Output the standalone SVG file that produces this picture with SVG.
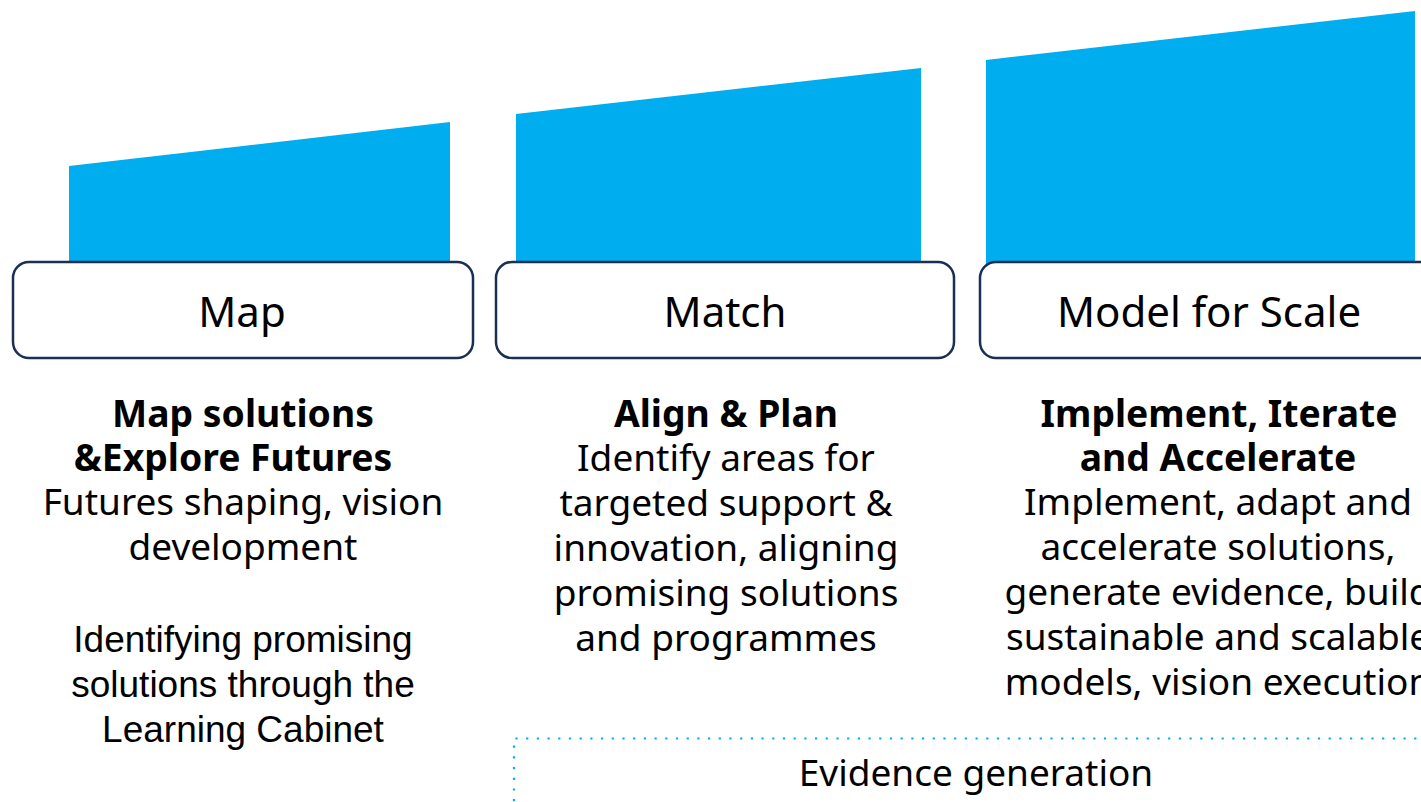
<svg xmlns="http://www.w3.org/2000/svg" width="1421" height="802" viewBox="0 0 1421 802">
<style>
.bar{fill:#00AEEF}
.box{fill:#ffffff;stroke:#1b2f55;stroke-width:2.5}
.lbl{font-family:"Noto Sans","Open Sans",sans-serif;font-size:42px;fill:#000;text-anchor:middle}
.ttl{font-family:"Noto Sans","Open Sans",sans-serif;font-size:37.3px;font-weight:bold;fill:#000;text-anchor:middle}
.txt{font-family:"Noto Sans","Open Sans",sans-serif;font-size:37px;fill:#000;text-anchor:middle}
.ar{font-family:"Liberation Sans",Arial,sans-serif;font-size:37px;fill:#000;text-anchor:middle}
.dot{fill:none;stroke:#00AEEF;stroke-width:2.2;stroke-dasharray:2.2 8.5}
</style>
<rect width="1421" height="802" fill="#ffffff"/>
<g id="map">
<polygon class="bar" points="69,166 450,122 450,266 69,266"/>
<rect class="box" x="13" y="262" width="460" height="96" rx="16"/>
<text class="lbl" x="242" y="327">Map</text>
<text class="ttl" x="243" y="427">Map solutions</text>
<text class="ttl" x="233" y="471">&amp;Explore Futures</text>
<text class="txt" x="243" y="515">Futures shaping, vision</text>
<text class="txt" x="243" y="560">development</text>
<text class="ar" x="243" y="652">Identifying promising</text>
<text class="ar" x="243" y="697">solutions through the</text>
<text class="ar" x="243" y="742">Learning Cabinet</text>
</g>
<g id="match">
<polygon class="bar" points="516,114 921,68 921,266 516,266"/>
<rect class="box" x="496" y="262" width="458" height="96" rx="16"/>
<text class="lbl" x="725" y="327">Match</text>
<text class="ttl" x="726" y="427">Align &amp; Plan</text>
<text class="txt" x="726" y="471">Identify areas for</text>
<text class="txt" x="726" y="516">targeted support &amp;</text>
<text class="txt" x="726" y="561">innovation, aligning</text>
<text class="txt" x="726" y="606">promising solutions</text>
<text class="txt" x="726" y="651">and programmes</text>
</g>
<g id="model">
<polygon class="bar" points="986,60 1415,11 1415,266 986,266"/>
<rect class="box" x="980" y="262" width="470" height="96" rx="16"/>
<text class="lbl" x="1209" y="327">Model for Scale</text>
<text class="ttl" x="1219" y="427">Implement, Iterate</text>
<text class="ttl" x="1218" y="471">and Accelerate</text>
<text class="txt" x="1218" y="515">Implement, adapt and</text>
<text class="txt" x="1218" y="560">accelerate solutions,</text>
<text class="txt" x="1218" y="605">generate evidence, build</text>
<text class="txt" x="1218" y="650">sustainable and scalable</text>
<text class="txt" x="1218" y="695">models, vision execution</text>
</g>
<g id="evidence">
<path class="dot" d="M514,812 V738.5 H1430"/>
<text class="txt" x="976" y="786">Evidence generation</text>
</g>
<g id="connectors"></g>
</svg>
